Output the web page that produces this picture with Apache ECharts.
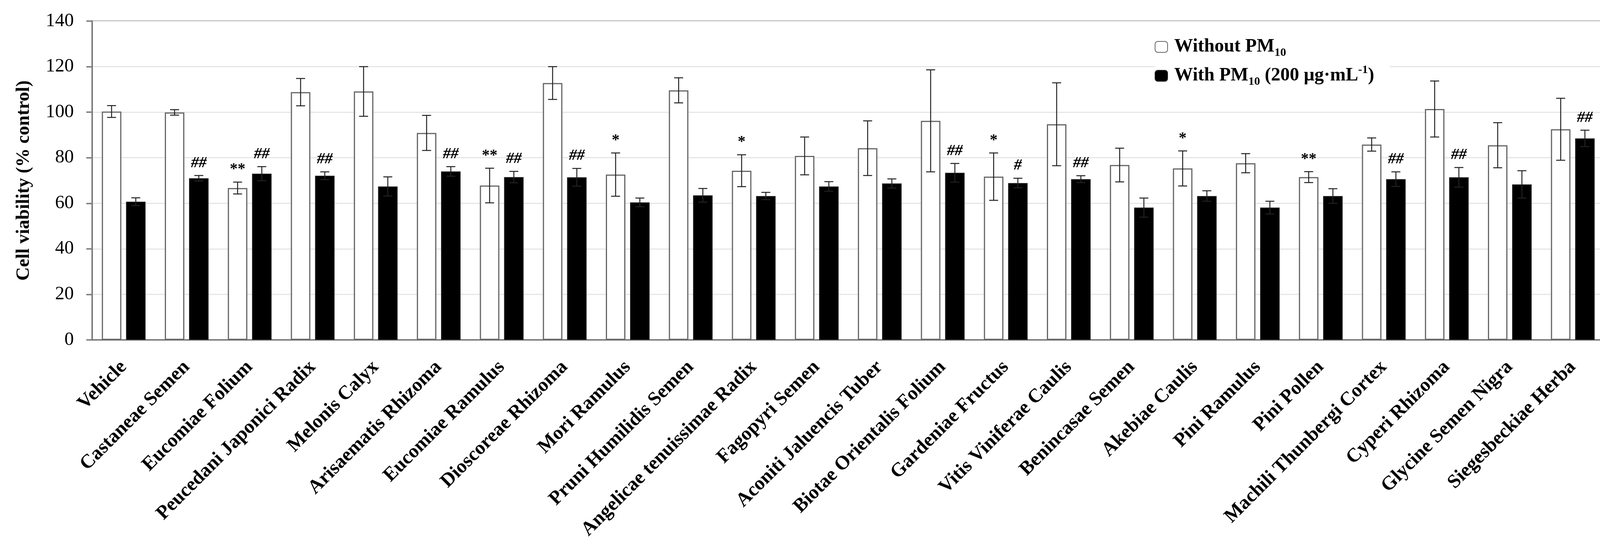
<!DOCTYPE html>
<html>
<head>
<meta charset="utf-8">
<script src="https://cdn.jsdelivr.net/npm/echarts@6/dist/echarts.min.js"></script>
<style>
html,body{margin:0;padding:0;background:#fff;}
#chart{width:4146px;height:1400px;}
</style>
</head>
<body>
<div id="chart"></div>
<script>
const categories = ['Vehicle','Castaneae Semen','Eucomiae Folium','Peucedani Japonici Radix','Melonis Calyx','Arisaematis Rhizoma','Eucomiae Ramulus','Dioscoreae Rhizoma','Mori Ramulus','Pruni Humilidis Semen','Angelicae tenuissimae Radix','Fagopyri Semen','Aconiti Jaluencis Tuber','Biotae Orientalis Folium','Gardeniae Fructus','Vitis Viniferae Caulis','Benincasae Semen','Akebiae Caulis','Pini Ramulus','Pini Pollen','Machili Thunbergi Cortex','Cyperi Rhizoma','Glycine Semen Nigra','Siegesbeckiae Herba'];
const withoutPM = [100.3, 99.9, 66.7, 108.8, 109.1, 90.9, 67.8, 112.8, 72.6, 109.6, 74.3, 80.8, 84.2, 96.2, 71.7, 94.7, 76.8, 75.3, 77.6, 71.5, 85.8, 101.4, 85.5, 92.5];
const withoutErr = [2.6, 1.2, 2.6, 6.0, 10.9, 7.7, 7.6, 7.2, 9.5, 5.5, 7.0, 8.3, 12.0, 22.4, 10.4, 18.2, 7.4, 7.7, 4.2, 2.4, 2.9, 12.3, 9.9, 13.6];
const withPM = [60.7, 71.0, 73.0, 72.1, 67.4, 74.0, 71.5, 71.4, 60.4, 63.5, 63.2, 67.4, 68.7, 73.4, 68.9, 70.6, 58.1, 63.2, 58.1, 63.2, 70.6, 71.4, 68.3, 88.5];
const withErr = [1.7, 1.2, 3.1, 1.7, 4.2, 2.1, 2.5, 3.9, 1.9, 3.0, 1.6, 2.1, 2.0, 4.1, 2.1, 1.5, 4.2, 2.3, 2.8, 3.2, 3.2, 4.3, 6.0, 3.6];
const withoutSig = ['', '', '**', '', '', '', '**', '', '*', '', '*', '', '', '', '*', '', '', '*', '', '**', '', '', '', ''];
const withSig = ['', '##', '##', '##', '', '##', '##', '##', '', '', '', '', '', '##', '#', '##', '', '', '', '', '##', '##', '', '##'];
const yTicks = [0, 20, 40, 60, 80, 100, 120, 140];

const FONT = "'Palatino Linotype','Book Antiqua',Palatino,'Liberation Serif',serif";
const BAR_FRAC = 0.31, GAP_FRAC = 0.24;

function errSeries(vals, errs, sigs, side, sigSize, italic) {
  return {
    type: 'custom',
    silent: true,
    z: 5,
    data: vals.map((v, i) => [i, v, errs[i]]),
    renderItem: function (params, api) {
      const i = api.value(0), v = api.value(1), e = api.value(2);
      const band = api.size([1, 0])[0];
      const bw = band * BAR_FRAC;
      const off = side * (bw + bw * GAP_FRAC) / 2;
      const top = api.coord([i, v + e]);
      const bot = api.coord([i, v - e]);
      const x = top[0] + off;
      const cap = 11.5;
      const st = { stroke: '#222', lineWidth: 2.5 };
      const children = [
        { type: 'line', shape: { x1: x, y1: top[1], x2: x, y2: bot[1] }, style: st },
        { type: 'line', shape: { x1: x - cap, y1: top[1], x2: x + cap, y2: top[1] }, style: st },
        { type: 'line', shape: { x1: x - cap, y1: bot[1], x2: x + cap, y2: bot[1] }, style: st }
      ];
      const s = sigs[params.dataIndex];
      if (s) {
        children.push({
          type: 'text',
          style: {
            text: s, x: x, y: top[1] - 12,
            align: 'center', verticalAlign: 'bottom',
            font: (italic ? 'italic bold ' : 'bold ') + sigSize + 'px ' + FONT,
            fill: '#000'
          }
        });
      }
      return { type: 'group', children: children };
    }
  };
}

const chart = echarts.init(document.getElementById('chart'), null, { renderer: 'canvas' });
chart.setOption({
  backgroundColor: '#fff',
  animation: false,
  grid: { left: 236, right: 39, top: 54, bottom: 530, containLabel: false, outerBoundsMode: 'none',
    show: true, borderColor: '#7a7a7a', borderWidth: 3.5 },
  legend: {
    orient: 'vertical',
    left: 2956, top: 80,
    padding: [10, 40, 10, 0],
    backgroundColor: '#fff',
    itemWidth: 32, itemHeight: 28, itemGap: 14,
    data: ['Without PM10', 'With PM10 (200 μg·mL-1)'],
    formatter: function (name) {
      return name === 'Without PM10' ? ' Without PM{sub|10}' : ' With PM{sub|10} (200 μg·mL{sup|-1})';
    },
    textStyle: {
      fontFamily: FONT, fontWeight: 'bold', fontSize: 48, color: '#000', lineHeight: 60,
      rich: {
        sub: { fontFamily: FONT, fontWeight: 'bold', fontSize: 30, lineHeight: 30, verticalAlign: 'bottom' },
        sup: { fontFamily: FONT, fontWeight: 'bold', fontSize: 30, lineHeight: 30, verticalAlign: 'top' }
      }
    }
  },
  xAxis: {
    type: 'category',
    data: categories,
    axisLine: { lineStyle: { color: '#7a7a7a', width: 3.5 } },
    axisTick: { show: false },
    axisLabel: { interval: 0, rotate: 45, margin: 62, fontFamily: FONT, fontWeight: 'bold', fontSize: 50, color: '#000' }
  },
  yAxis: {
    type: 'value', min: 0, max: 140, interval: 20,
    name: 'Cell viability (% control)',
    nameLocation: 'middle', nameGap: 150,
    nameTextStyle: { fontFamily: FONT, fontWeight: 'bold', fontSize: 48, color: '#000' },
    axisLine: { show: true, lineStyle: { color: '#7a7a7a', width: 3.5 } },
    axisTick: { show: true, length: 15, lineStyle: { color: '#7a7a7a', width: 3.5 } },
    axisLabel: { margin: 47, fontFamily: FONT, fontSize: 48, color: '#000',
      formatter: function (v) { return yTicks.indexOf(v) >= 0 ? String(v) : ''; } },
    splitLine: { show: true, lineStyle: { color: '#e6e6e6', width: 3 } }
  },
  series: [
    { name: 'Without PM10', type: 'bar', data: withoutPM, barWidth: (BAR_FRAC * 100) + '%', barGap: (GAP_FRAC * 100) + '%',
      itemStyle: { color: '#fff', borderColor: '#666', borderWidth: 3 } },
    { name: 'With PM10 (200 μg·mL-1)', type: 'bar', data: withPM, barWidth: (BAR_FRAC * 100) + '%',
      itemStyle: { color: '#000', borderColor: '#222', borderWidth: 1.5 } },
    errSeries(withoutPM, withoutErr, withoutSig, -1, 40, false),
    errSeries(withPM, withErr, withSig, 1, 40, true)
  ]
});
</script>
</body>
</html>
